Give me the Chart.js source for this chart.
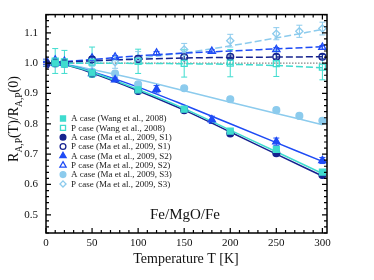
<!DOCTYPE html>
<html>
<head>
<meta charset="utf-8">
<script src="https://cdn.jsdelivr.net/npm/chart.js@4/dist/chart.umd.min.js"></script>
<style>
  html, body { margin: 0; padding: 0; background: #fff; }
  #wrap { width: 374px; height: 280px; }
</style>
</head>
<body>
<div id="wrap"><canvas id="c"></canvas></div>
<script>
// ── data ─────────────────────────────────────────────────────────────
const xTicks = [0, 50, 100, 150, 200, 250, 300];
const yTicks = [0.5, 0.6, 0.7, 0.8, 0.9, 1.0, 1.1];

// fitted curves (sampled by eye)
const fitT     = [0, 25, 50, 100, 150, 200, 250, 300];
const fitAWang = [1.0, 0.992, 0.970, 0.913, 0.850, 0.779, 0.708, 0.636];
const fitPWang = [1.0, 1.0, 1.0, 0.999, 0.998, 0.996, 0.992, 0.985];
const fitAS1   = [1.0, 0.991, 0.967, 0.909, 0.845, 0.773, 0.700, 0.628];
const fitPS1   = [1.0, 1.004, 1.008, 1.013, 1.017, 1.019, 1.020, 1.021];
const fitAS2   = [1.0, 0.992, 0.972, 0.921, 0.862, 0.800, 0.738, 0.676];
const fitPS2   = [1.0, 1.006, 1.012, 1.024, 1.033, 1.040, 1.047, 1.054];
const fitAS3   = [1.0, 0.994, 0.979, 0.946, 0.909, 0.871, 0.834, 0.797];
const fitPS3   = [1.0, 1.002, 1.005, 1.017, 1.034, 1.057, 1.083, 1.111];

// Wang et al., 2008
const wangT    = [10, 20, 50, 100, 150, 200, 250, 300];
const wangA    = [1.0, 0.997, 0.968, 0.912, 0.848, 0.776, 0.716, 0.641];
const wangP    = [1.007, 1.004, 1.003, 1.006, 0.999, 1.0, 0.998, 0.987];
const wangPErr = [0.041, 0.038, 0.05, 0.04, 0.045, 0.045, 0.042, 0.042];

// Ma et al., 2009, S1
const s1T    = [0, 10, 20, 50, 100, 150, 200, 250, 300];
const s1A    = [1.0, 1.0, 0.999, 0.966, 0.908, 0.845, 0.768, 0.703, 0.631];
const s1P    = [0.995, 1.003, 1.002, 1.012, 1.014, 1.019, 1.021, 1.021, 1.021];
const s1PErr = [0.006, 0.006, 0.006, 0.006, 0.006, 0.006, 0.006, 0.007, 0.007];

// Ma et al., 2009, S2
const s2T    = [0, 10, 20, 50, 75, 120, 180, 250, 300];
const s2A    = [1.0, 1.0, 1.0, 0.966, 0.945, 0.914, 0.813, 0.741, 0.679];
const s2AErr = [0.005, 0.005, 0.005, 0.005, 0.006, 0.012, 0.012, 0.012, 0.01];
const s2P    = [1.008, 1.01, 1.006, 1.017, 1.02, 1.033, 1.039, 1.045, 1.052];
const s2PErr = [0.005, 0.005, 0.005, 0.005, 0.005, 0.005, 0.005, 0.006, 0.006];

// Ma et al., 2009, S3
const s3T    = [0, 10, 20, 50, 75, 100, 150, 200, 250, 275, 300];
const s3A    = [1.0, 0.998, 0.997, 0.972, 0.966, 0.93, 0.917, 0.881, 0.845, 0.826, 0.81];
const s3P    = [1.0, 0.998, 0.996, 1.0, 1.003, 1.018, 1.045, 1.074, 1.097, 1.105, 1.114];
const s3PErr = [0.01, 0.01, 0.01, 0.01, 0.02, 0.02, 0.02, 0.021, 0.02, 0.02, 0.021];

const legendLabels = [
  'A case (Wang et al., 2008)',
  'P case (Wang et al., 2008)',
  'A case (Ma et al., 2009, S1)',
  'P case (Ma et al., 2009, S1)',
  'A case (Ma et al., 2009, S2)',
  'P case (Ma et al., 2009, S2)',
  'A case (Ma et al., 2009, S3)',
  'P case (Ma et al., 2009, S3)',
];

// ── colours ──────────────────────────────────────────────────────────
const TURQ  = '#3fdccf';
const NAVY  = '#16238f';
const BLUE  = '#1e4bf5';
const LIGHT = '#8ccbed';
const SERIF = "'Liberation Serif', 'DejaVu Serif', serif";

const pts = (xs, ys) => xs.map((x, i) => ({ x, y: ys[i] }));

function fitLine(ys, color, dashed) {
  return {
    data: pts(fitT, ys),
    showLine: true,
    borderColor: color,
    borderWidth: 1.5,
    borderDash: dashed ? [7, 3] : [],
    pointRadius: 0,
    cubicInterpolationMode: 'monotone',
    order: 2,
  };
}

function markers(xs, ys, color, style, open, radius, errs) {
  return {
    data: pts(xs, ys),
    showLine: false,
    pointStyle: style,
    pointRadius: radius,
    pointBorderWidth: 1.3,
    pointBorderColor: color,
    pointBackgroundColor: open ? 'rgba(255,255,255,0)' : color,
    errors: errs || null,
    errColor: color,
    order: 1,
  };
}

// legend marker specs, same order as legendLabels
const legendMarks = [
  ['rect', TURQ, false, 4.2], ['rect', TURQ, true, 4.2],
  ['circle', NAVY, false, 3.4], ['circle', NAVY, true, 3.4],
  ['triangle', BLUE, false, 4.2], ['triangle', BLUE, true, 4.2],
  ['circle', LIGHT, false, 3.4], ['rectRot', LIGHT, true, 3.6],
];

function drawMark(ctx, style, x, y, r, color, open) {
  ctx.save();
  ctx.beginPath();
  if (style === 'circle') {
    ctx.arc(x, y, r, 0, Math.PI * 2);
  } else if (style === 'rect') {
    const s = r * Math.SQRT1_2;
    ctx.rect(x - s, y - s, 2 * s, 2 * s);
  } else if (style === 'rectRot') {
    ctx.moveTo(x, y - r); ctx.lineTo(x + r, y); ctx.lineTo(x, y + r); ctx.lineTo(x - r, y);
    ctx.closePath();
  } else if (style === 'triangle') {
    ctx.moveTo(x, y - r); ctx.lineTo(x + r * 0.87, y + r * 0.5); ctx.lineTo(x - r * 0.87, y + r * 0.5);
    ctx.closePath();
  }
  ctx.lineWidth = 1.3;
  ctx.strokeStyle = color;
  if (!open) { ctx.fillStyle = color; ctx.fill(); }
  ctx.stroke();
  ctx.restore();
}

// error bars drawn under the markers
const errorBars = {
  id: 'errorBars',
  beforeDatasetsDraw(chart) {
    const ctx = chart.ctx;
    const ys = chart.scales.y;
    chart.data.datasets.forEach((ds, i) => {
      if (!ds.errors) return;
      const meta = chart.getDatasetMeta(i);
      ctx.save();
      ctx.strokeStyle = ds.errColor;
      ctx.lineWidth = 1;
      meta.data.forEach((el, j) => {
        const v = ds.data[j].y, e = ds.errors[j];
        const top = ys.getPixelForValue(v + e);
        const bot = ys.getPixelForValue(v - e);
        ctx.beginPath();
        ctx.moveTo(el.x, top); ctx.lineTo(el.x, bot);
        ctx.moveTo(el.x - 3, top); ctx.lineTo(el.x + 3, top);
        ctx.moveTo(el.x - 3, bot); ctx.lineTo(el.x + 3, bot);
        ctx.stroke();
      });
      ctx.restore();
    });
  },
};

// frame, inward ticks on all sides, legend and texts
const decor = {
  id: 'decor',
  afterDraw(chart) {
    const ctx = chart.ctx;
    const a = chart.chartArea;
    const xs = chart.scales.x, ys = chart.scales.y;
    ctx.save();
    ctx.strokeStyle = '#000';
    ctx.lineWidth = 1.2;
    for (let t = 0; t <= 305; t += 10) {
      const px = xs.getPixelForValue(t);
      const len = t % 50 === 0 ? 5 : 3;
      ctx.beginPath();
      ctx.moveTo(px, a.bottom); ctx.lineTo(px, a.bottom - len);
      ctx.moveTo(px, a.top); ctx.lineTo(px, a.top + len);
      ctx.stroke();
    }
    for (let k = 22; k <= 58; k++) {
      const v = k * 0.02;
      const py = ys.getPixelForValue(v);
      const len = k % 5 === 0 ? 5 : 3;
      ctx.beginPath();
      ctx.moveTo(a.left, py); ctx.lineTo(a.left + len, py);
      ctx.moveTo(a.right, py); ctx.lineTo(a.right - len, py);
      ctx.stroke();
    }
    ctx.lineWidth = 1.5;
    ctx.strokeRect(a.left, a.top, a.right - a.left, a.bottom - a.top);

    // legend
    ctx.font = '9px ' + SERIF;
    ctx.textBaseline = 'middle';
    ctx.fillStyle = '#222';
    legendLabels.forEach((lab, i) => {
      const y = 118.5 + i * 9.35;
      const m = legendMarks[i];
      drawMark(ctx, m[0], 63, y, m[3] * 0.85, m[1], m[2]);
      ctx.fillText(lab, 71, y + 0.5);
    });

    // annotation
    ctx.fillStyle = '#111';
    ctx.textAlign = 'center';
    ctx.textBaseline = 'alphabetic';
    ctx.font = '15px ' + SERIF;
    ctx.fillText('Fe/MgO/Fe', 185, 219);

    // x title
    ctx.font = '14px ' + SERIF;
    ctx.fillText('Temperature T [K]', 186, 263);

    // y title with subscripts
    ctx.translate(18, 119);
    ctx.rotate(-Math.PI / 2);
    const parts = [['R', 0], ['A,P', 1], ['(T)/R', 0], ['A,P', 1], ['(0)', 0]];
    const big = '14px ' + SERIF, small = '9.5px ' + SERIF;
    let w = 0;
    parts.forEach(p => { ctx.font = p[1] ? small : big; w += ctx.measureText(p[0]).width; });
    let x = -w / 2;
    ctx.textAlign = 'left';
    parts.forEach(p => {
      ctx.font = p[1] ? small : big;
      ctx.fillText(p[0], x, p[1] ? 3.5 : 0);
      x += ctx.measureText(p[0]).width;
    });
    ctx.restore();
  },
};

new Chart(document.getElementById('c'), {
  type: 'scatter',
  data: {
    datasets: [
      // points
      markers(wangT, wangA, TURQ, 'rect', false, 4.2),
      markers(wangT, wangP, TURQ, 'rect', true, 4.2, wangPErr),
      markers(s1T, s1A, NAVY, 'circle', false, 3.4),
      markers(s1T, s1P, NAVY, 'circle', true, 3.4, s1PErr),
      markers(s2T, s2A, BLUE, 'triangle', false, 4.2, s2AErr),
      markers(s2T, s2P, BLUE, 'triangle', true, 4.2, s2PErr),
      markers(s3T, s3A, LIGHT, 'circle', false, 3.4),
      markers(s3T, s3P, LIGHT, 'rectRot', true, 3.6, s3PErr),
      // fits
      fitLine(fitAWang, TURQ, false),
      fitLine(fitPWang, TURQ, true),
      fitLine(fitAS1, NAVY, false),
      fitLine(fitPS1, NAVY, true),
      fitLine(fitAS2, BLUE, false),
      fitLine(fitPS2, BLUE, true),
      fitLine(fitAS3, LIGHT, false),
      fitLine(fitPS3, LIGHT, true),
      // reference line at 1
      {
        data: [{ x: 0, y: 1 }, { x: 305, y: 1 }],
        showLine: true,
        borderColor: '#888',
        borderWidth: 1.2,
        borderDash: [1.5, 1.5],
        pointRadius: 0,
        order: 3,
      },
    ],
  },
  options: {
    responsive: true,
    maintainAspectRatio: false,
    animation: false,
    layout: { padding: { top: 5, right: 47, left: 0, bottom: 0 } },
    plugins: { legend: { display: false }, tooltip: { enabled: false } },
    scales: {
      x: {
        type: 'linear',
        min: 0,
        max: 305,
        afterBuildTicks: (s) => { s.ticks = xTicks.map(v => ({ value: v })); },
        afterFit: (s) => { s.height = 47; },
        grid: { display: false, drawTicks: false },
        border: { display: false },
        ticks: {
          padding: 4,
          color: '#111',
          font: { family: SERIF, size: 11 },
        },
      },
      y: {
        type: 'linear',
        min: 0.44,
        max: 1.16,
        afterBuildTicks: (s) => { s.ticks = yTicks.map(v => ({ value: v })); },
        afterFit: (s) => { s.width = 46; },
        grid: { display: false, drawTicks: false },
        border: { display: false },
        ticks: {
          padding: 8,
          color: '#111',
          font: { family: SERIF, size: 11 },
          callback: (v) => v.toFixed(1),
        },
      },
    },
  },
  plugins: [errorBars, decor],
});
</script>
</body>
</html>
